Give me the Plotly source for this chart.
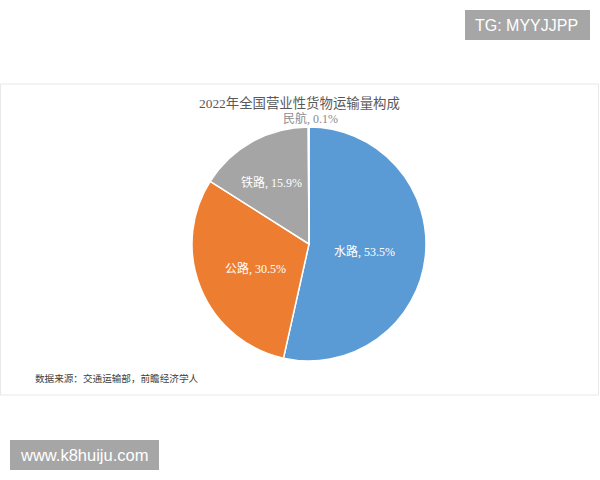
# coding: utf-8
import plotly.graph_objects as go

# 数据
modes = ['水路', '公路', '铁路', '民航']
shares = [53.5, 30.5, 15.9, 0.1]
colors = ['#5B9BD5', '#ED7D31', '#A5A5A5', '#FFC000']

title_text = '2022年全国营业性货物运输量构成'
source_text = '数据来源：交通运输部，前瞻经济学人'
tg_text = 'TG: MYYJJPP'
site_text = 'www.k8huiju.com'

W, H = 600, 480
serif = 'Liberation Serif, Noto Sans CJK SC'
sans = 'Liberation Sans, Arial, sans-serif'


def fx(px):
    return px / W


def fy(py):
    return 1 - py / H


def note(text, px, py, font, anchor='center'):
    fig.add_annotation(text=text, x=fx(px), y=fy(py), xref='paper', yref='paper', showarrow=False,
                       xanchor=anchor, yanchor='middle', font=font)


fig = go.Figure()
fig.add_trace(go.Pie(
    labels=modes,
    values=shares,
    textinfo='none',
    sort=False,
    direction='clockwise',
    rotation=0,
    marker=dict(colors=colors, line=dict(color='#ffffff', width=1.5)),
    domain=dict(x=[fx(309 - 117), fx(309 + 117)], y=[fy(361), fy(127)]),
    automargin=False,
    showlegend=False,
))

# 边框
fig.add_shape(type='rect', xref='paper', yref='paper',
              x0=fx(0.5), x1=fx(598.5), y0=fy(395), y1=fy(84),
              line=dict(color='#e8e8e8', width=1), fillcolor='rgba(0,0,0,0)', layer='below')
# 水印底色
fig.add_shape(type='rect', xref='paper', yref='paper', x0=fx(465), x1=fx(590), y0=fy(40), y1=fy(10),
              line_width=0, fillcolor='#a6a6a6')
fig.add_shape(type='rect', xref='paper', yref='paper', x0=fx(10), x1=fx(159), y0=fy(470), y1=fy(440),
              line_width=0, fillcolor='#a6a6a6')

# 扇区标签
label_xy = [(365, 251), (255, 268), (271, 182), (310, 118)]
label_col = ['#ffffff', '#ffffff', '#ffffff', '#8c8c8c']
for m, s, (lx, ly), c in zip(modes, shares, label_xy, label_col):
    note(f'{m}, {s}%', lx, ly, dict(family=serif, size=12, color=c))

note(title_text, 299.5, 103, dict(family=serif, size=13.4, color='#595959'))
note(source_text, 33, 378, dict(family=serif, size=9.6, color='#404040'), anchor='left')
note(tg_text, 526.5, 25, dict(family=sans, size=16, color='#ffffff'))
note(site_text, 84, 455, dict(family=sans, size=16.5, color='#ffffff'))

fig.update_layout(
    width=W, height=H,
    margin=dict(l=0, r=0, t=0, b=0),
    paper_bgcolor='#ffffff',
)

fig.write_html("out.html", config=dict(displayModeBar=False),
               post_script="document.body.style.margin='0';")
